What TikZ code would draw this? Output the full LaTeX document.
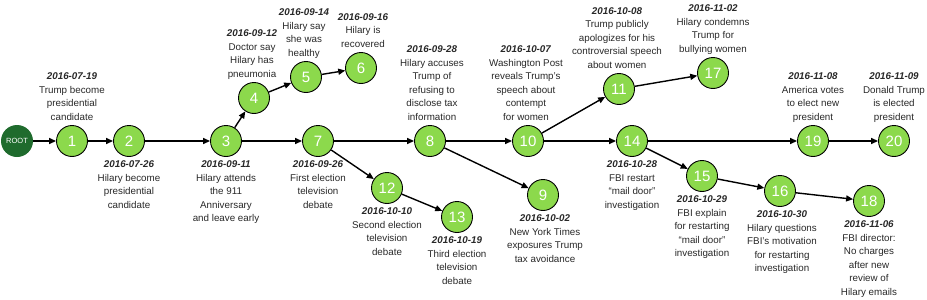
\documentclass[tikz,border=0pt]{standalone}
\usepackage{fontspec}
\setmainfont{Liberation Sans}
\usetikzlibrary{positioning,arrows.meta}
\definecolor{evgreen}{RGB}{140,217,76}
\definecolor{rootgreen}{RGB}{31,107,45}
\definecolor{txt}{RGB}{40,40,40}
\newcommand{\dt}[1]{\textbf{\textit{#1}}}
\tikzset{
  ev/.style={circle, draw=black, line width=0.9pt, fill=evgreen, minimum size=31pt, inner sep=0pt, text=white, font=\fontsize{15}{15}\selectfont},
  rootnode/.style={circle, fill=rootgreen, minimum size=32pt, inner sep=0pt, text=white, font=\fontsize{7.5}{8}\selectfont},
  lbl/.style={align=center, inner sep=0pt, font=\fontsize{9.8}{13.5}\selectfont, text=txt},
  lblup/.style={lbl, text depth=2.6pt},
  arr/.style={-{Triangle[length=7pt,width=6pt]}, line width=1.4pt},
}
\begin{document}
\begin{tikzpicture}[x=1pt,y=-1pt]
\useasboundingbox (0,0) rectangle (927,300);
\node[rootnode] (r) at (17,141) {ROOT};
\node[ev] (n1) at (72,141) {1};
\node[ev] (n2) at (129,141) {2};
\node[ev] (n3) at (226,141) {3};
\node[ev] (n4) at (254,98) {4};
\node[ev] (n5) at (306,77) {5};
\node[ev] (n6) at (361,68) {6};
\node[ev] (n7) at (318,141) {7};
\node[ev] (n12) at (387,188) {12};
\node[ev] (n13) at (457,217) {13};
\node[ev] (n8) at (430,141) {8};
\node[ev] (n10) at (528,141) {10};
\node[ev] (n9) at (543,195) {9};
\node[ev] (n11) at (619,89) {11};
\node[ev] (n17) at (713,73) {17};
\node[ev] (n14) at (632,141) {14};
\node[ev] (n15) at (702,176) {15};
\node[ev] (n16) at (780,191) {16};
\node[ev] (n18) at (869,201) {18};
\node[ev] (n19) at (813,141) {19};
\node[ev] (n20) at (894,141) {20};

\node[lblup, above=2pt of n1] (l1) {\dt{2016-07-19}\\Trump become\\presidential\\candidate};
\node[lbl, below=4pt of n2] (l2) {\dt{2016-07-26}\\Hilary become\\presidential\\candidate};
\node[lbl, below=4pt of n3] (l3) {\dt{2016-09-11}\\Hilary attends\\the 911\\Anniversary\\and leave early};
\node[lblup, above=2pt of n4, xshift=-2pt] (l4) {\dt{2016-09-12}\\Doctor say\\Hilary has\\pneumonia};
\node[lblup, above=2pt of n5, xshift=-2pt] (l5) {\dt{2016-09-14}\\Hilary say\\she was\\healthy};
\node[lblup, above=2pt of n6, xshift=2pt] (l6) {\dt{2016-09-16}\\Hilary is\\recovered};
\node[lbl, below=4pt of n7] (l7) {\dt{2016-09-26}\\First election\\television\\debate};
\node[lbl, below=4pt of n12] (l12) {\dt{2016-10-10}\\Second election\\television\\debate};
\node[lbl, below=4pt of n13] (l13) {\dt{2016-10-19}\\Third election\\television\\debate};
\node[lblup, above=2pt of n8, xshift=2pt] (l8) {\dt{2016-09-28}\\Hilary accuses\\Trump of\\refusing to\\disclose tax\\information};
\node[lblup, above=2pt of n10, xshift=-2pt] (l10) {\dt{2016-10-07}\\Washington Post\\reveals Trump’s\\speech about\\contempt\\for women};
\node[lbl, below=4pt of n9, xshift=2pt] (l9) {\dt{2016-10-02}\\New York Times\\exposures Trump\\tax avoidance};
\node[lblup, above=2pt of n11, xshift=-2pt] (l11) {\dt{2016-10-08}\\Trump publicly\\apologizes for his\\controversial speech\\about women};
\node[lblup, above=2pt of n17] (l17) {\dt{2016-11-02}\\Hilary condemns\\Trump for\\bullying women};
\node[lbl, below=4pt of n14] (l14) {\dt{2016-10-28}\\FBI restart\\“mail door”\\investigation};
\node[lbl, below=4pt of n15] (l15) {\dt{2016-10-29}\\FBI explain\\for restarting\\“mail door”\\investigation};
\node[lbl, below=4pt of n16, xshift=2pt] (l16) {\dt{2016-10-30}\\Hilary questions\\FBI’s motivation\\for restarting\\investigation};
\node[lbl, below=4pt of n18] (l18) {\dt{2016-11-06}\\FBI director:\\No charges\\after new\\review of\\Hilary emails};
\node[lblup, above=2pt of n19] (l19) {\dt{2016-11-08}\\America votes\\to elect new\\president};
\node[lblup, above=2pt of n20] (l20) {\dt{2016-11-09}\\Donald Trump\\is elected\\president};

\draw[arr] (r) -- (n1);
\draw[arr] (n1) -- (n2);
\draw[arr] (n2) -- (n3);
\draw[arr] (n3) -- (n4);
\draw[arr] (n4) -- (n5);
\draw[arr] (n5) -- (n6);
\draw[arr] (n3) -- (n7);
\draw[arr] (n7) -- (n8);
\draw[arr] (n7) -- (n12);
\draw[arr] (n12) -- (n13);
\draw[arr] (n8) -- (n10);
\draw[arr] (n8) -- (n9);
\draw[arr] (n10) -- (n11);
\draw[arr] (n10) -- (n14);
\draw[arr] (n11) -- (n17);
\draw[arr] (n14) -- (n19);
\draw[arr] (n14) -- (n15);
\draw[arr] (n15) -- (n16);
\draw[arr] (n16) -- (n18);
\draw[arr] (n19) -- (n20);
\end{tikzpicture}
\end{document}
